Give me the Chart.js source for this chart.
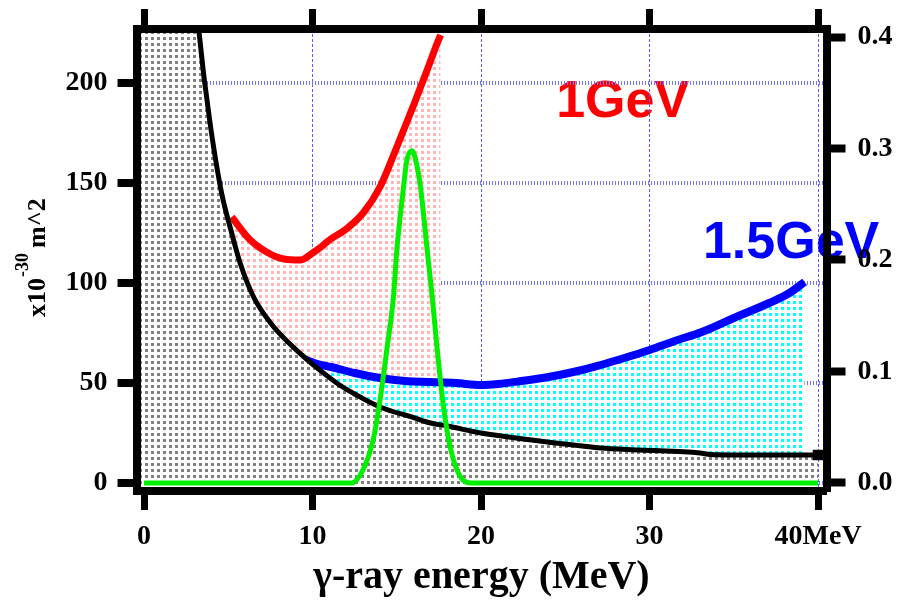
<!DOCTYPE html>
<html>
<head>
<meta charset="utf-8">
<script src="https://cdn.jsdelivr.net/npm/chart.js@4.4.1/dist/chart.umd.min.js"></script>
<style>
  html, body { margin: 0; padding: 0; background: #fff; }
  #wrap { position: relative; width: 902px; height: 603px; }
</style>
</head>
<body>
<div id="wrap"><canvas id="chart"></canvas></div>
<script>
// axis ticks
const xTicks = [0, 10, 20, 30, 40];
const xTickLabels = ['0', '10', '20', '30', '40MeV'];
const yTicks = [0, 50, 100, 150, 200];
const y2Ticks = [0, 0.1, 0.2, 0.3, 0.4];
const y2TickLabels = ['0.0', '0.1', '0.2', '0.3', '0.4'];

// black curve (gray fill underneath)
const blackE = [-0.45, 3.0, 3.6, 4.0, 4.6, 5.2, 5.7, 6.5, 7.6, 8.6, 9.5, 10.5, 11.6, 12.5, 14.0, 16.0, 17.0, 18.0, 20.0, 23.0, 26.0, 27.1, 29.4, 33.0, 33.6, 35.0, 38.9, 40.0];
const blackSigma = [236, 236, 200, 175, 145, 125, 110, 93, 79, 70, 63, 56, 49, 44.5, 38, 32.7, 30, 28.5, 25, 21.5, 18.5, 17.5, 16.5, 15, 14.2, 14, 14, 14];

// 1 GeV (red)
const redE = [5.2, 6.3, 7.6, 8.3, 9.3, 10.0, 10.5, 11.0, 12.0, 13.0, 14.0, 15.0, 16.0, 16.8, 17.4, 17.6];
const redSigma = [133, 121.5, 114, 112, 111.5, 115, 118, 121.5, 127, 135, 148, 168, 189, 206.5, 220, 224];

// 1.5 GeV (blue)
const blueE = [9.45, 10.3, 11.1, 12.5, 14.0, 15.5, 17.0, 18.5, 20.0, 21.0, 22.4, 24.0, 26.0, 27.1, 28.5, 30.0, 31.5, 33.1, 35.0, 37.1, 38.3, 39.2];
const blueSigma = [62, 59.5, 58, 55, 52.5, 51, 50.5, 50, 49, 49.5, 51, 53, 56.5, 59, 62.5, 66.5, 71, 75.5, 82.5, 90, 95, 100.5];

// gamma-ray spectrum (green, right axis)
const greenE = [0, 12.3, 13.0, 13.6, 14.0, 14.4, 14.8, 15.0, 15.2, 15.4, 15.6, 15.9, 16.2, 16.4, 16.6, 16.8, 17.1, 17.4, 17.8, 18.2, 18.75, 19.45, 40];
const greenVal = [0, 0, 0.012, 0.039, 0.074, 0.119, 0.167, 0.209, 0.239, 0.266, 0.29, 0.298, 0.284, 0.266, 0.239, 0.209, 0.167, 0.119, 0.065, 0.03, 0.006, 0, 0];

function pts(xs, ys) {
  return xs.map((x, i) => ({ x: x, y: ys[i] }));
}

function dots(color) {
  const c = document.createElement('canvas');
  c.width = 6; c.height = 6;
  const g = c.getContext('2d');
  g.fillStyle = '#ffffff';
  g.fillRect(0, 0, 6, 6);
  g.fillStyle = color;
  g.fillRect(1, 1, 3, 3);
  return g.createPattern(c, 'repeat');
}

const tickFont = { family: '"Liberation Serif", "Times New Roman", serif', size: 28, weight: 'bold' };

// labels drawn before scales, so grid and axes sit on top of them
const labelsPlugin = {
  id: 'labels',
  beforeDraw(chart) {
    const { ctx, scales } = chart;
    ctx.save();
    ctx.textAlign = 'center';
    ctx.textBaseline = 'middle';
    ctx.font = 'bold 52px "Liberation Sans", Arial, sans-serif';
    ctx.fillStyle = '#ff0000';
    ctx.fillText('1GeV', scales.x.getPixelForValue(28.4), scales.y.getPixelForValue(190));
    ctx.fillStyle = '#0000ff';
    ctx.fillText('1.5GeV', scales.x.getPixelForValue(38.4), scales.y.getPixelForValue(119.75));

    // y title: x10^-30 m^2, rotated
    ctx.translate(45, 317);
    ctx.rotate(-Math.PI / 2);
    ctx.textAlign = 'left';
    ctx.textBaseline = 'alphabetic';
    ctx.fillStyle = '#000';
    ctx.font = 'bold 26px "Liberation Serif", serif';
    ctx.fillText('x10', 0, 0);
    let w = ctx.measureText('x10').width;
    ctx.font = 'bold 18px "Liberation Serif", serif';
    ctx.fillText('-30', w + 1, -17);
    w += ctx.measureText('-30').width + 6;
    ctx.font = 'bold 26px "Liberation Serif", serif';
    ctx.fillText('m^2', w, 0);
    ctx.restore();
  }
};

new Chart(document.getElementById('chart'), {
  type: 'line',
  data: {
    datasets: [
      {
        data: pts(greenE, greenVal),
        yAxisID: 'y2',
        borderColor: '#00f000',
        borderWidth: 5,
        pointRadius: 0,
        cubicInterpolationMode: 'monotone',
        fill: false
      },
      {
        data: pts(blackE, blackSigma),
        borderColor: '#000000',
        borderWidth: 5,
        pointRadius: ctx => ctx.dataIndex === blackE.length - 1 ? 4 : 0,
        pointStyle: 'rect',
        pointBackgroundColor: '#000',
        cubicInterpolationMode: 'monotone',
        backgroundColor: dots('#7f7f7f'),
        fill: 'start'
      },
      {
        data: pts(blueE, blueSigma),
        borderColor: '#0000ff',
        borderWidth: 8,
        pointRadius: 0,
        cubicInterpolationMode: 'monotone',
        backgroundColor: dots('#00ffff'),
        fill: 'start'
      },
      {
        data: pts(redE, redSigma),
        borderColor: '#ff0000',
        borderWidth: 7,
        pointRadius: 0,
        cubicInterpolationMode: 'monotone',
        backgroundColor: dots('#ffb5b5'),
        fill: 'start'
      }
    ]
  },
  options: {
    responsive: true,
    maintainAspectRatio: false,
    animation: false,
    devicePixelRatio: 1,
    layout: { padding: 0 },
    plugins: { legend: { display: false }, tooltip: { enabled: false } },
    scales: {
      x: {
        type: 'linear',
        position: 'bottom',
        min: -0.45,
        max: 40.5,
        afterBuildTicks: s => { s.ticks = xTicks.map(v => ({ value: v })); },
        afterFit: s => { s.height = 112; },
        ticks: {
          font: tickFont,
          color: '#000',
          padding: 10,
          maxRotation: 0,
          autoSkip: false,
          callback: (v, i) => xTickLabels[i]
        },
        grid: { color: '#5a5aff', lineWidth: 1, tickColor: '#000', tickWidth: 7, tickLength: 19 },
        border: { color: '#000', width: 8, z: 1, dash: [3, 2] },
        title: {
          display: true,
          text: 'γ-ray energy (MeV)',
          color: '#000',
          font: { family: '"Liberation Serif", "Times New Roman", serif', size: 40, weight: 'bold' },
          padding: { top: 0, bottom: 1 }
        }
      },
      xt: {
        type: 'linear',
        position: 'top',
        min: -0.45,
        max: 40.5,
        afterBuildTicks: s => { s.ticks = xTicks.map(v => ({ value: v })); },
        afterFit: s => { s.height = 29; },
        ticks: { display: false },
        grid: { drawOnChartArea: false, tickColor: '#000', tickWidth: 7, tickLength: 20 },
        border: { color: '#000', width: 8, z: 1 }
      },
      y: {
        type: 'linear',
        position: 'left',
        min: -4,
        max: 227,
        afterBuildTicks: s => { s.ticks = yTicks.map(v => ({ value: v })); },
        afterFit: s => { s.width = 136.5; },
        ticks: { font: tickFont, color: '#000', padding: 10 },
        grid: { color: '#7474ff', lineWidth: 4, tickColor: '#000', tickWidth: 8, tickLength: 19 },
        border: { color: '#000', width: 8, z: 1, dash: [1, 2] }
      },
      y2: {
        type: 'linear',
        position: 'right',
        min: -0.0072,
        max: 0.4072,
        afterBuildTicks: s => { s.ticks = y2Ticks.map(v => ({ value: v })); },
        afterFit: s => { s.width = 75.5; },
        ticks: { font: tickFont, color: '#000', padding: 12, callback: (v, i) => y2TickLabels[i] },
        grid: { drawOnChartArea: false, tickColor: '#000', tickWidth: 8, tickLength: 19 },
        border: { color: '#000', width: 8, z: 1 }
      }
    }
  },
  plugins: [labelsPlugin]
});
</script>
</body>
</html>
